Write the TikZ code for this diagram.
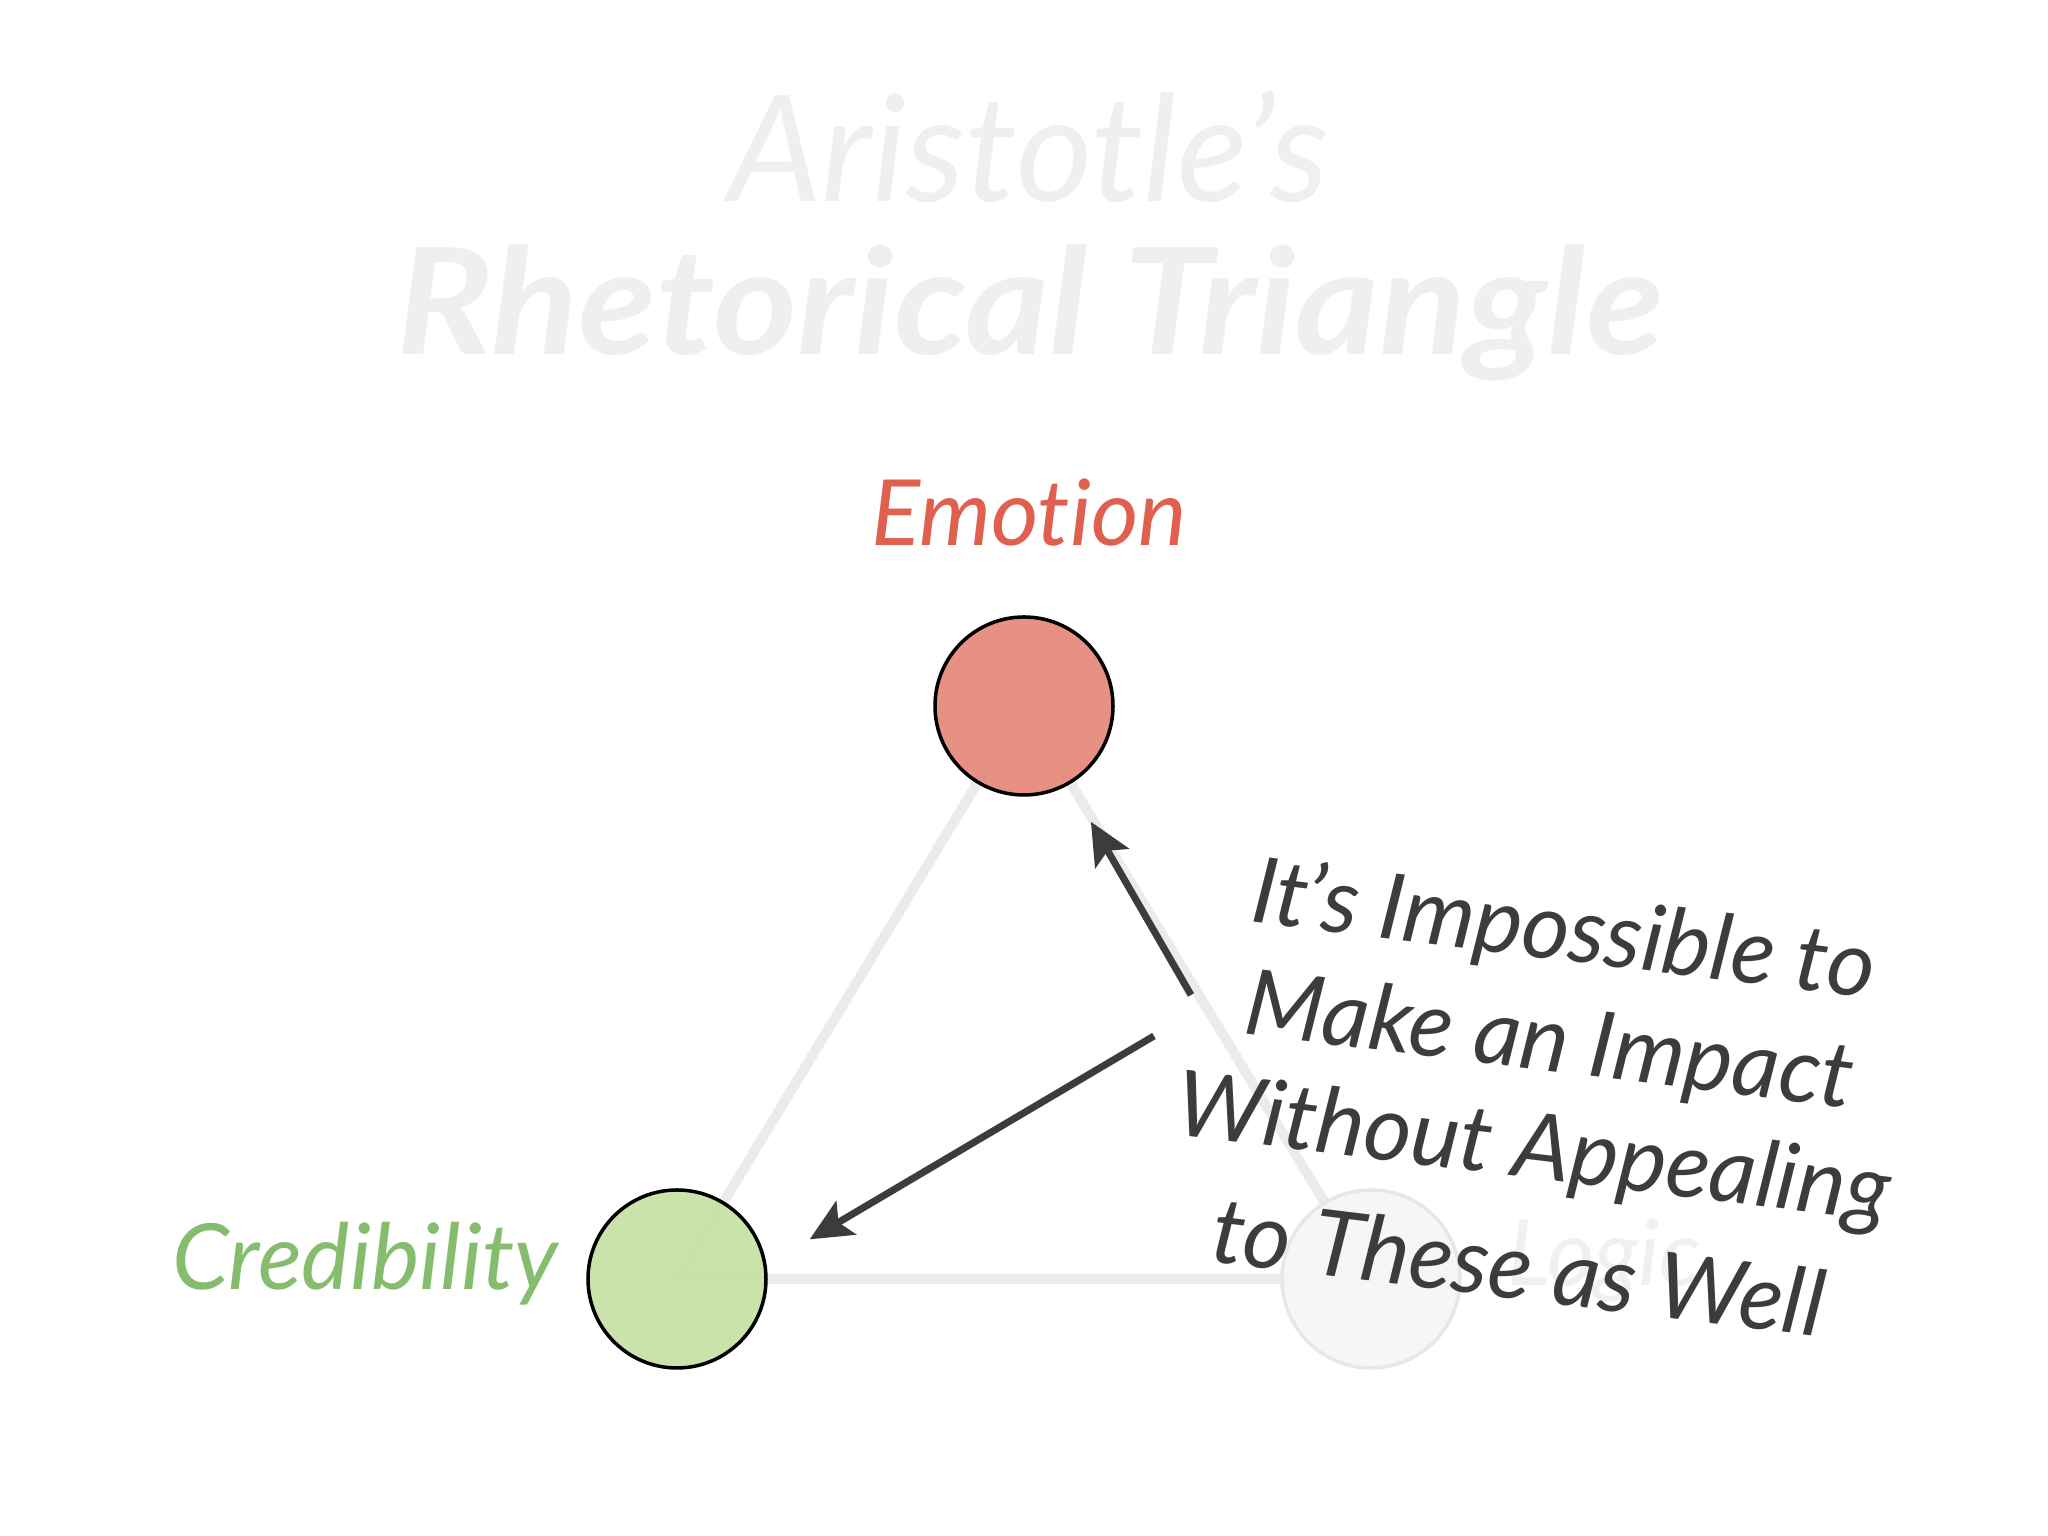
\documentclass[tikz,border=0pt]{standalone}
\usepackage{fontspec}
\setmainfont{Lato}[Ligatures={NoCommon,NoContextual}]
\usepackage{tikz}
\usetikzlibrary{arrows.meta,positioning}
\definecolor{titlegray}{HTML}{EFEFEF}
\definecolor{emored}{HTML}{E0604F}
\definecolor{emofill}{HTML}{E4887A}
\definecolor{credgreen}{HTML}{86BC6E}
\definecolor{credfill}{HTML}{C6E1A4}
\definecolor{logicline}{HTML}{E6E7E8}
\definecolor{logicfill}{HTML}{F5F6F6}
\definecolor{logictext}{HTML}{F0F0F0}
\definecolor{notegray}{HTML}{3C3B3D}
\definecolor{edgegray}{HTML}{EBEBEB}

\begin{document}
\begin{tikzpicture}[
	appeal/.style={draw=black,line width=1pt,shape=circle,minimum size=1.78cm,inner sep=0pt,fill opacity=0.92},
	word/.style={font=\fontsize{26}{30}\selectfont\itshape,anchor=base,inner sep=0pt},
	note/.style={font=\fontsize{26}{30}\selectfont\itshape,text=notegray,rotate=-7,anchor=base,inner sep=0pt},
	pointer/.style={draw=notegray,line width=2pt,-{Stealth[length=12pt,width=11pt,inset=2.5pt]}}]
	\useasboundingbox[fill=white] (0,0) rectangle (20.48,15.36);

	\node[font=\fontsize{42}{48}\selectfont\itshape,text=titlegray,anchor=base] (aristotle) at (10.29,13.34) {Aristotle’s};
	\node[font=\fontsize{42}{50}\selectfont\bfseries\itshape,text=titlegray,anchor=base] (rhetoric) at (10.30,11.81) {\scalebox{1.09}[1]{Rhetorical Triangle}};

	\coordinate (E) at (10.24,8.30);
	\coordinate (C) at (6.77,2.57);
	\coordinate (L) at (13.71,2.57);
	\draw[edgegray,line width=2.8pt] (E) -- (C) -- (L) -- cycle;

	\node[appeal,fill=emofill] (emotion) at (E) {};
	\node[appeal,fill=credfill] (credibility) at (C) {};
	\node[appeal,draw=logicline,fill=logicfill] (logic) at (L) {};

	\node[word,text=emored] (emotionlabel) at (10.29,9.90) {Emotion};
	\node[word,text=credgreen,anchor=base east] (credibilitylabel) at (5.59,2.46) {Credibility};
	\node[word,text=logictext] (logiclabel) at (16.04,2.50) {Logic};

	\node[note] (line1) at (15.60,5.76) {It’s Impossible to};
	\node[note] (line2) at (15.46,4.65) {Make an Impact};
	\node[note] (line3) at (15.30,3.58) {Without Appealing};
	\node[note] (line4) at (15.15,2.37) {to These as Well};

	\coordinate (n1) at (11.91,5.41);
	\coordinate (n2) at (11.54,5.00);
	\draw[pointer,shorten >=0.43cm] (n1) -- (emotion);
	\draw[pointer,shorten >=0.5cm] (n2) -- (credibility.9);
\end{tikzpicture}
\end{document}
